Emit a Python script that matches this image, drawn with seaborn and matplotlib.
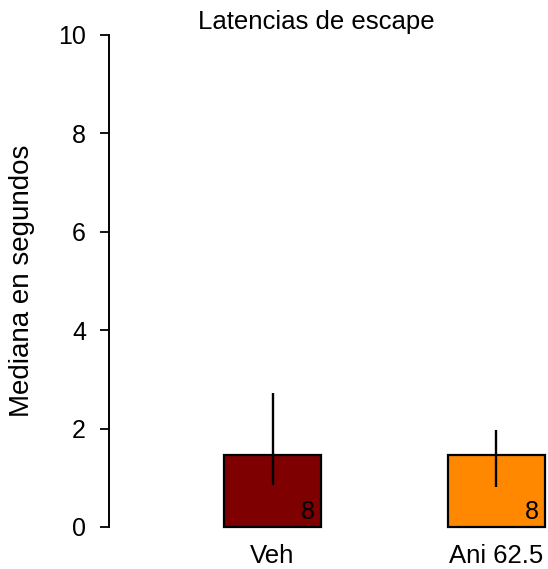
import matplotlib
matplotlib.use("Agg")
import matplotlib.pyplot as plt
import seaborn as sns
import pandas as pd

groups = ["Veh", "Ani 62.5"]
medians = [1.46, 1.46]
err_low = [0.85, 0.81]
err_high = [2.72, 1.97]
n_labels = ["8", "8"]
colors = ["#7F0000", "#FF8800"]
yticks = [0, 2, 4, 6, 8, 10]

sns.set_style("white")
plt.rcParams["font.family"] = ["Liberation Sans", "DejaVu Sans"]
plt.rcParams["text.color"] = "black"
plt.rcParams["xtick.color"] = "black"
plt.rcParams["ytick.color"] = "black"
plt.rcParams["axes.labelcolor"] = "black"

df = pd.DataFrame({"grupo": groups, "mediana": medians})

fig = plt.figure(figsize=(5.48, 5.69), dpi=100)
ax = fig.add_axes([109/548, 42/569, 439/548, 492/569])

sns.barplot(data=df, x="grupo", y="mediana", hue="grupo", palette=colors,
            order=groups, hue_order=groups, width=0.433, legend=False,
            saturation=1, edgecolor="black", linewidth=1.6, ax=ax)
for p in ax.patches:
    p.set_clip_on(False)

ax.vlines(range(len(groups)), err_low, err_high, colors="black", linewidth=1.7, zorder=5)

for i, t in enumerate(n_labels):
    ax.text(i + 0.19, 0.16, t, fontsize=18, ha="right", va="baseline", color="black")

ax.set_xlim(-0.73, 1.23)
ax.set_ylim(0, 10)
ax.set_yticks(yticks)
ax.set_yticklabels([str(v) for v in yticks], fontsize=18)
ax.tick_params(axis="y", direction="out", length=6.5, width=1.3, pad=10, left=True, color="black")
ax.tick_params(axis="x", length=0, pad=12, labelsize=18.5)
for s in ["top", "right", "bottom"]:
    ax.spines[s].set_visible(False)
ax.spines["left"].set_linewidth(1.4)
ax.spines["left"].set_color("black")
ax.spines["left"].set_bounds(0, 10)

ax.set_xlabel("")
ax.set_ylabel("Mediana en segundos", fontsize=20)
ax.yaxis.set_label_coords(-(109 - 35) / 439, 0.5)
fig.text(316/548, 1 - 22/569, "Latencias de escape", fontsize=18.5, ha="center", va="center")

fig.savefig("out.png", dpi=100)
